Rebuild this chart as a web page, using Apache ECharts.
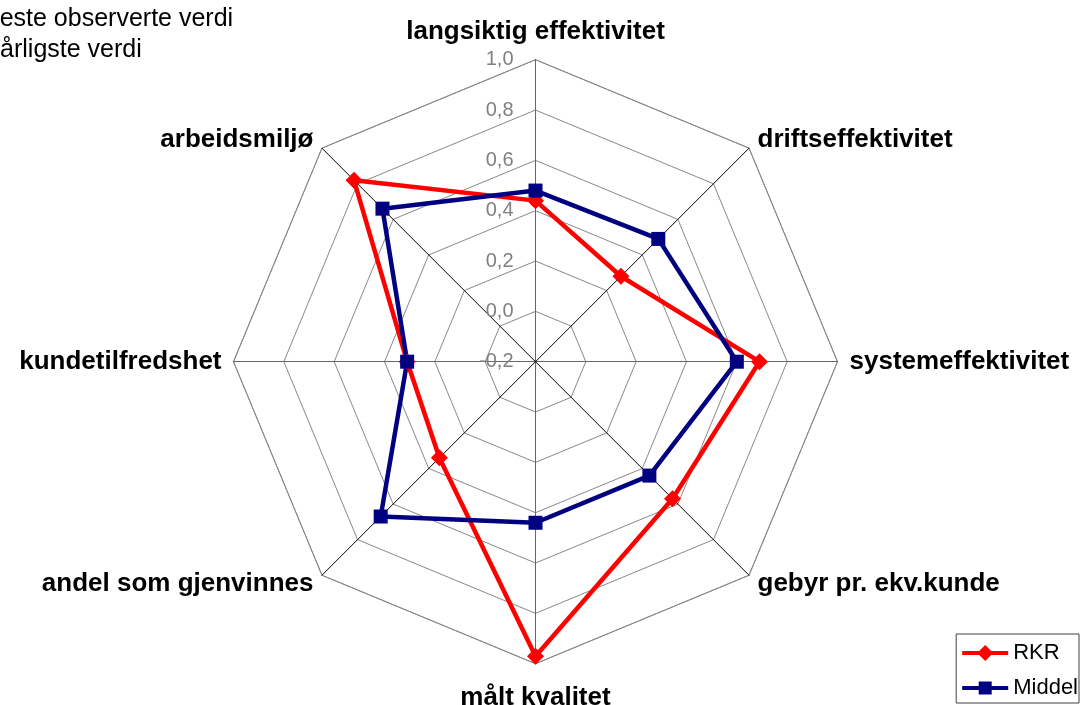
<!DOCTYPE html>
<html>
<head>
<meta charset="utf-8">
<script src="https://cdn.jsdelivr.net/npm/echarts@6/dist/echarts.min.js"></script>
<style>
html,body{margin:0;padding:0;background:#fff;}
#chart{width:1082px;height:705px;}
</style>
</head>
<body>
<div id="chart"></div>
<script>
// Indicators in counter-clockwise order starting at the top (ECharts radar order)
var categories = ['langsiktig effektivitet', 'arbeidsmiljø', 'kundetilfredshet', 'andel som gjenvinnes', 'målt kvalitet', 'gebyr pr. ekv.kunde', 'systemeffektivitet', 'driftseffektivitet'];
var rkrValues    = [0.44, 0.82, 0.31, 0.34, 0.97, 0.57, 0.69, 0.28];
var middelValues = [0.48, 0.66, 0.31, 0.67, 0.44, 0.44, 0.60, 0.49];
var seriesNames = ['RKR', 'Middel'];
var tickValues = [-0.2, 0.0, 0.2, 0.4, 0.6, 0.8, 1.0];
var noteLines = ['Beste observerte verdi', 'Dårligste verdi'];

var axisMin = tickValues[0], axisMax = tickValues[tickValues.length - 1];
var FONT = 'Liberation Sans, Arial, sans-serif';

var indicators = categories.map(function (c, i) {
  var straight = (i % 2 === 0);
  var gap = i === 0 ? 15 : (i === 4 ? 21 : 12);
  return {
    name: c, min: axisMin, max: axisMax,
    nameGap: gap,
    axisLabel: { show: i === 0 },
    axisLine: { lineStyle: { color: straight ? '#666666' : '#000000', width: 1 } }
  };
});

var diamondIcon = 'path://M0,0 L0,0 M46,16 L46,16 M0,6 H46 V10 H0 Z M23,0 L31,8 L23,16 L15,8 Z';
var squareIcon = 'path://M0,0 L0,0 M46,16 L46,16 M0,6 H46 V10 H0 Z M16.5,1.5 H29.5 V14.5 H16.5 Z';

var chart = echarts.init(document.getElementById('chart'));
chart.setOption({
  animation: false,
  backgroundColor: '#ffffff',
  textStyle: { fontFamily: FONT },
  graphic: noteLines.map(function (t, i) {
    return { type: 'text', left: i === 0 ? -17 : -18, top: 7 + i * 31,
      style: { text: t, font: '25px "Liberation Sans", Arial, sans-serif', fill: '#000' } };
  }),
  legend: {
    orient: 'vertical',
    right: 3, bottom: 2,
    itemWidth: 46, itemHeight: 16,
    itemGap: 13,
    padding: [8, 1, 4, 6],
    borderColor: '#404040', borderWidth: 1,
    textStyle: { fontSize: 22, color: '#000', fontFamily: FONT },
    data: [
      { name: seriesNames[0], icon: diamondIcon, itemStyle: { color: '#ff0000' } },
      { name: seriesNames[1], icon: squareIcon, itemStyle: { color: '#000080' } }
    ]
  },
  radar: {
    center: [535.5, 361.7],
    radius: 302,
    startAngle: 90,
    shape: 'polygon',
    splitNumber: 6,
    indicator: indicators,
    axisName: { color: '#000', fontSize: 26, fontWeight: 'bold', fontFamily: FONT },
    nameGap: 12,
    splitLine: { lineStyle: { color: '#888888', width: 1 } },
    splitArea: { show: false },
    axisLine: { lineStyle: { color: '#000', width: 1 } },
    axisTick: { show: false },
    axisLabel: {
      show: true, color: '#808080', fontSize: 20, margin: 22,
      fontFamily: FONT,
      formatter: function (v) { return (Math.round(v * 10) / 10).toFixed(1).replace('.', ','); }
    }
  },
  series: [{
    type: 'radar',
    data: [
      { name: seriesNames[0], value: rkrValues, symbol: 'diamond', symbolSize: 17,
        lineStyle: { color: '#ff0000', width: 4.5 }, itemStyle: { color: '#ff0000' } },
      { name: seriesNames[1], value: middelValues, symbol: 'rect', symbolSize: 14,
        lineStyle: { color: '#000080', width: 4.5 }, itemStyle: { color: '#000080' } }
    ]
  }]
});
</script>
</body>
</html>
